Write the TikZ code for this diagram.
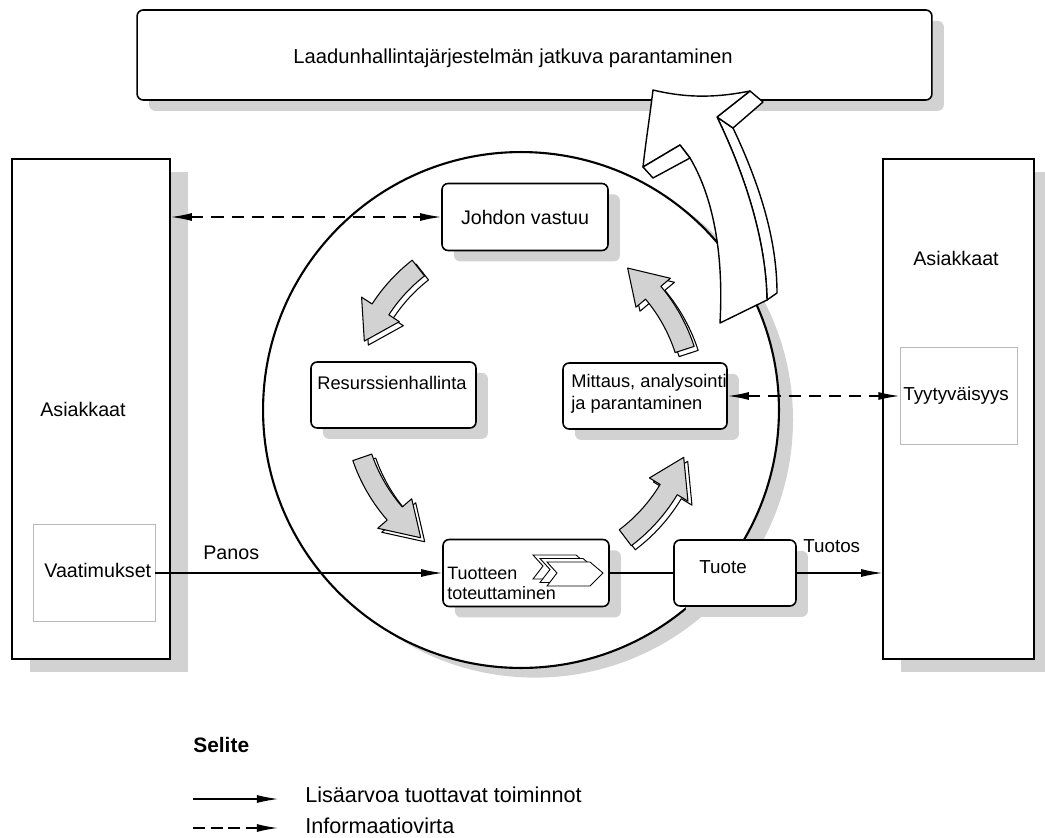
\documentclass[tikz,border=0pt]{standalone}
\usepackage{fontspec}
\setmainfont{Liberation Sans}
\usetikzlibrary{arrows.meta,shadows}

\tikzset{
  nk/.tip={Latex[length=12pt,width=4.5pt]},
  laatikko/.style={draw, fill=white, rounded corners=3.5pt, line width=0.9pt, inner sep=0pt,
    drop shadow={shadow xshift=6.8pt, shadow yshift=-6.2pt, fill=gray!35, opacity=1}},
  iso/.style={draw, fill=white, line width=0.9pt, inner sep=0pt,
    drop shadow={shadow xshift=10pt, shadow yshift=-7.5pt, fill=gray!35, opacity=1}},
  ohut/.style={draw=gray!55, line width=0.5pt, inner sep=0pt},
  teksti/.style={inner sep=0pt, anchor=west, font=\fontsize{11.2}{13}\selectfont},
  pieni/.style={inner sep=0pt, anchor=west, align=left, font=\fontsize{10.4}{12.5}\selectfont},
  selite/.style={inner sep=0pt, anchor=west, font=\fontsize{12.3}{14}\selectfont},
  virta/.style={line width=0.6pt, -nk},
  info/.style={line width=0.8pt, dash pattern=on 7pt off 4.5pt, nk-nk},
}

\begin{document}
\begin{tikzpicture}[x=0.02cm, y=-0.02cm]
\useasboundingbox (0,0) rectangle (1045,838);

% jatkuva parantaminen
\node[laatikko, minimum width=15.9cm, minimum height=1.8cm] (ylin) at (534.5,55) {};
\node[inner sep=0pt, font=\fontsize{11.5}{14}\selectfont] (otsikko) at (513,58)
  {Laadunhallintajärjestelmän jatkuva parantaminen};

% asiakkaat
\node[iso, minimum width=3.16cm, minimum height=10cm] (asL) at (91,409) {};
\node[iso, minimum width=3.02cm, minimum height=10cm] (asR) at (958.5,409) {};
\node[teksti] (asLt) at (40,409) {Asiakkaat};
\node[teksti] (asRt) at (913,258) {Asiakkaat};
\node[ohut, minimum width=2.44cm, minimum height=1.94cm] (vaat) at (94,573) {};
\node[teksti] (vaatt) at (44,570) {Vaatimukset};
\node[ohut, minimum width=2.34cm, minimum height=1.94cm] (tyyt) at (958.5,396) {};
\node[pieni, font=\fontsize{10.7}{13}\selectfont] (tyytt) at (903,396) {Tyytyväisyys};

% prosessi
\node[circle, draw, fill=white, line width=1.2pt, minimum size=10.32cm, inner sep=0pt,
  drop shadow={shadow xshift=8pt, shadow yshift=-5.5pt, fill=gray!35, opacity=1}] (keha) at (521,410) {};

\node[laatikko, minimum width=3.32cm, minimum height=1.34cm,
  font=\fontsize{11.2}{13}\selectfont] (johto) at (525,217) {Johdon vastuu};
\node[laatikko, minimum width=3.3cm, minimum height=1.32cm] (resu) at (393.5,395) {};
\node[pieni] (resut) at (317,383) {Resurssienhallinta};
\node[laatikko, minimum width=3.28cm, minimum height=1.32cm] (mitt) at (645,396) {};
\node[pieni] (mittt) at (571,394) {Mittaus, analysointi\\ja parantaminen};
\node[laatikko, minimum width=3.32cm, minimum height=1.34cm] (tuot) at (526,573) {};
\node[pieni, font=\fontsize{10.2}{11.4}\selectfont] (tuott) at (447,583) {Tuotteen\\toteuttaminen};
\foreach \s in {14,7,0}
  \filldraw[fill=white, line width=0.5pt, shift={(-\s,-\s/2)}]
    (547,562) -- (590,562) -- (603,573) -- (590,586) -- (547,586) -- (557,573) -- cycle;
\node[laatikko, minimum width=2.44cm, minimum height=1.32cm] (tuote) at (735,573) {};
\node[pieni, font=\fontsize{10.7}{13}\selectfont] (tuotet) at (699,567) {Tuote};

% kaarinuolet
\begin{scope}[shift={(523,402)}]
\foreach \a/\b in {128/159,199/233,307/341,18/52}
  \foreach \dx/\dy/\vari in {0.08/-0.08/white,0/0/gray!35}
    \filldraw[fill=\vari, line width=0.6pt, line join=round, shift={(\dx cm,\dy cm)}]
      (\a:3.6cm) arc[start angle=\a, end angle=\b-12, radius=3.6cm]
      -- (\b-12:3.85cm) -- (\b:3.4cm) -- (\b-12:2.95cm) -- (\b-12:3.2cm)
      arc[start angle=\b-12, end angle=\a, radius=3.2cm] -- cycle;
\end{scope}

% virrat
\draw[virta] (vaat.east) -- (tuot.west);
\draw[line width=0.6pt] (tuot.east) -- (tuote.west);
\draw[virta] (tuote.east) -- (tuote.east -| asR.west);
\node[teksti] (panos) at (203,553) {Panos};
\node[pieni, font=\fontsize{10.7}{13}\selectfont] (tuotos) at (803,546) {Tuotos};
\draw[info] (johto.west -| asL.east) -- (johto.west);
\draw[info] (mitt.east) -- (tyyt.west);

% iso nuoli
\begin{scope}[fill=white, line width=0.8pt, line join=round]
\filldraw (733,128) .. controls (760,185) and (777,240) .. (777,293) -- (767,300)
  .. controls (766,240) and (745,175) .. (717,117) -- cycle;
\filldraw (750,91) -- (763,102) -- (733,128) -- (717,117) -- cycle;
\filldraw (653,90) .. controls (690,99) and (720,97) .. (750,91) -- (717,117)
  .. controls (745,175) and (766,240) .. (767,300) -- (720,323)
  .. controls (724,250) and (712,195) .. (690,158) -- (680,145) -- (643,167)
  .. controls (646,140) and (650,115) .. (653,90) -- cycle;
\filldraw (643,167) -- (653,178) -- (690,158) -- (680,145) -- cycle;
\end{scope}

% selite
\node[inner sep=0pt, anchor=west, font=\bfseries\fontsize{11.9}{14}\selectfont] (selite) at (193,745) {Selite};
\coordinate (s1) at (193,799);
\coordinate (s2) at (278,799);
\draw[virta] (s1) -- (s2);
\node[selite] (s1t) at (305,795) {Lisäarvoa tuottavat toiminnot};
\coordinate (i1) at (193,828);
\coordinate (i2) at (278,828);
\draw[line width=0.8pt, dash pattern=on 7pt off 3pt, -nk] (i1) -- (i2);
\node[selite] (i1t) at (305,826) {Informaatiovirta};
\end{tikzpicture}
\end{document}
